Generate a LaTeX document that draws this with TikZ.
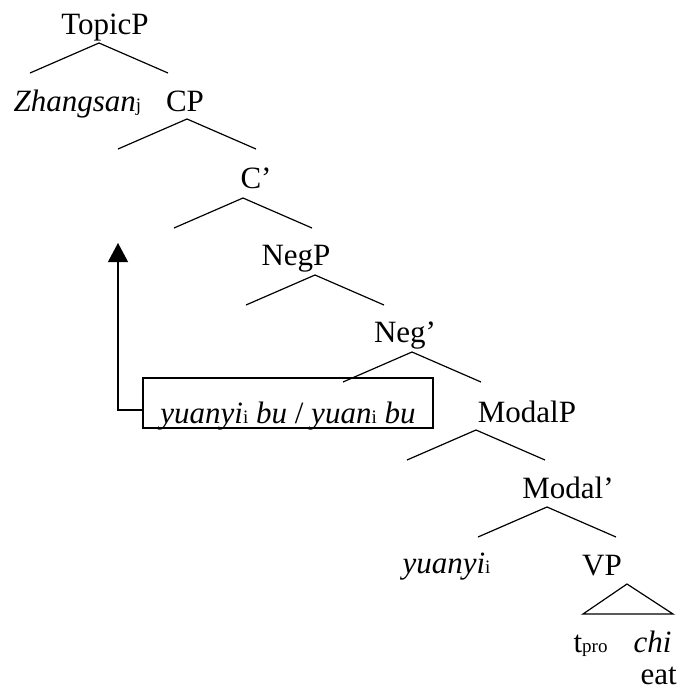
\documentclass[tikz,border=0pt]{standalone}
\usepackage{fontspec}
\setmainfont{Liberation Serif}
\usetikzlibrary{arrows.meta}
\newcommand{\lowidx}[1]{{\fontsize{9.5}{10}\selectfont #1}}

\begin{document}
\begin{tikzpicture}[x=0.5pt, y=-0.5pt, line width=0.6pt,
  lab/.style={inner sep=0pt, anchor=base, font=\fontsize{15.5}{18}\selectfont},
  labw/.style={lab, anchor=base west}]
\useasboundingbox (0,0) rectangle (683,692);

% phrase labels
\node[lab] (topicp) at (105,34) {TopicP};
\node[labw] (zhangsan) at (13,111) {\textit{Zhangsan}\lowidx{j}};
\node[lab] (cp) at (185,111) {CP};
\node[lab] (cbar) at (256,188) {C'};
\node[lab] (negp) at (296,265) {NegP};
\node[lab] (negbar) at (405,342) {Neg'};
\node[lab, draw, minimum width=145pt, text height=22.5pt, text depth=2.5pt] (moved) at (288,423) {\textit{yuanyi}\lowidx{i} \textit{bu} / \textit{yuan}\lowidx{i} \textit{bu}};
\node[lab] (modalp) at (527,422) {ModalP};
\node[lab] (modalbar) at (568,498) {Modal'};
\node[labw] (yuanyi) at (402,573) {\textit{yuanyi}\lowidx{i}};
\node[lab] (vp) at (602,575) {VP};
\node[labw] (tpro) at (573,652) {t\lowidx{pro}};
\node[labw] (chi) at (633,652) {\textit{chi}};
\node[labw] (eat) at (640,684) {eat};

% branches
\foreach \n/\x/\y in {topicp/99/43, cp/187/119, cbar/243/198, negp/315/275, negbar/412/352, modalp/476/430, modalbar/547/507} {
  \coordinate (\n-top) at (\x,\y);
  \coordinate (\n-l) at (\x-69,\y+30);
  \coordinate (\n-r) at (\x+69,\y+30);
  \draw (\n-l) -- (\n-top) -- (\n-r);
}

% VP triangle
\coordinate (vp-top) at (627,584);
\draw (vp-top) -- (583,614) -- (673,614) -- cycle;

% movement
\coordinate (landing) at (118,243);
\draw[-{Triangle[width=10pt, length=9.5pt]}] ([yshift=-3.5pt]moved.west) -| (landing);
\end{tikzpicture}
\end{document}
